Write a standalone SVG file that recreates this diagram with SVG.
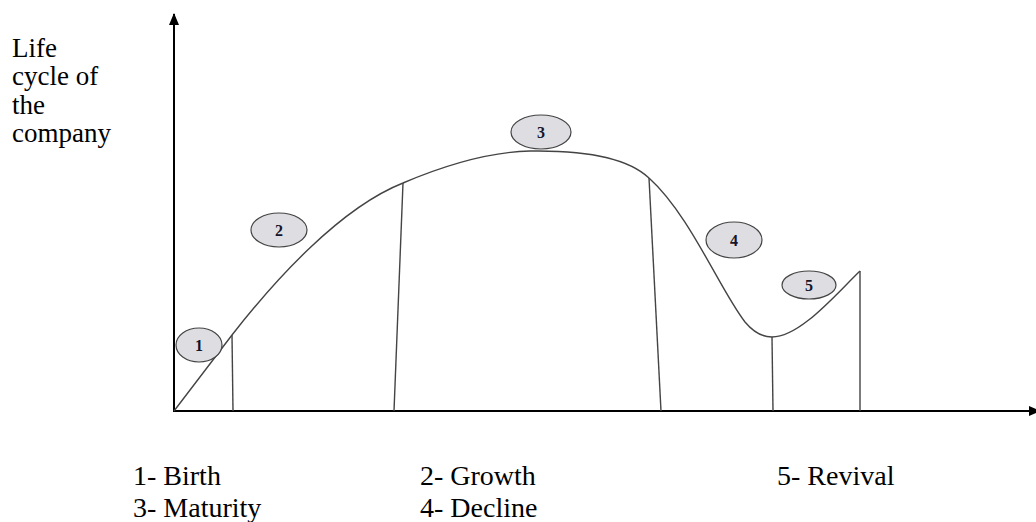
<svg xmlns="http://www.w3.org/2000/svg" width="1036" height="522" viewBox="0 0 1036 522">
<style>
.t{font-family:"Liberation Serif","Times New Roman",serif;font-size:28px;fill:#000}
.y{font-family:"Liberation Serif","Times New Roman",serif;font-size:27px;fill:#000}
.n{font-family:"Liberation Serif","Times New Roman",serif;font-size:16px;font-weight:bold;fill:#14142a;text-anchor:middle}
.e{fill:#dedee2;stroke:#444;stroke-width:1.2}
.c{fill:none;stroke:#444;stroke-width:1.4}
.ax{fill:none;stroke:#000;stroke-width:2}
</style>
<defs>
<marker id="ah" viewBox="0 0 12 10" refX="11" refY="5" markerWidth="12" markerHeight="10" markerUnits="userSpaceOnUse" orient="auto">
<path d="M0,0 L12,5 L0,10 z" fill="#000"/>
</marker>
</defs>
<g id="connectors">
<line class="ax" x1="174" y1="412" x2="174" y2="14" marker-end="url(#ah)"/>
<line class="ax" x1="174" y1="411" x2="1040" y2="411" marker-end="url(#ah)"/>
<path class="c" d="M174,411 L232,335 C275,280 340,208 403,183 C450,163 490,152 530,151 C590,150 630,160 649,178 C690,215 720,290 745,322 C755,334 765,337 772,337 C800,337 835,295 860,271"/>
<line class="c" x1="232" y1="335" x2="233" y2="411"/>
<line class="c" x1="403" y1="183" x2="394" y2="411"/>
<line class="c" x1="649" y1="178" x2="661" y2="411"/>
<line class="c" x1="772" y1="337" x2="773" y2="411"/>
<line class="c" x1="860" y1="271" x2="860" y2="411"/>
</g>
<g id="n1"><ellipse class="e" cx="199" cy="345" rx="23" ry="17"/><text class="n" x="199" y="351">1</text></g>
<g id="n2"><ellipse class="e" cx="279" cy="230" rx="28" ry="17"/><text class="n" x="279" y="236">2</text></g>
<g id="n3"><ellipse class="e" cx="541" cy="132" rx="30" ry="17"/><text class="n" x="541" y="138">3</text></g>
<g id="n4"><ellipse class="e" cx="734" cy="240" rx="28" ry="18"/><text class="n" x="734" y="246">4</text></g>
<g id="n5"><ellipse class="e" cx="809" cy="285" rx="27" ry="14"/><text class="n" x="809" y="291">5</text></g>
<g id="ylabel">
<text class="y" x="12" y="57">Life</text>
<text class="y" x="12" y="85">cycle of</text>
<text class="y" x="12" y="114">the</text>
<text class="y" x="12" y="142">company</text>
</g>
<g id="legend">
<text class="t" x="133" y="485">1- Birth</text>
<text class="t" x="133" y="517">3- Maturity</text>
<text class="t" x="420" y="485">2- Growth</text>
<text class="t" x="420" y="517">4- Decline</text>
<text class="t" x="777" y="485">5- Revival</text>
</g>
</svg>
